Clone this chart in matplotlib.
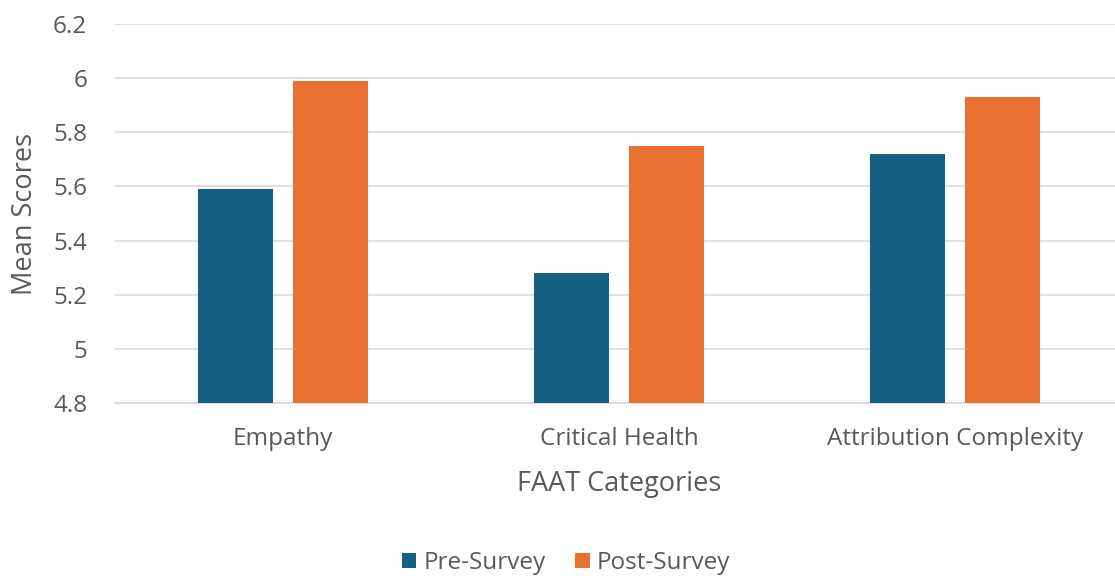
import matplotlib
matplotlib.use("Agg")
import matplotlib.pyplot as plt
import numpy as np

categories = ["Empathy", "Critical Health", "Attribution Complexity"]
pre_survey = [5.59, 5.28, 5.72]
post_survey = [5.99, 5.75, 5.93]
series_names = ["Pre-Survey", "Post-Survey"]
y_ticks = [4.8, 5.0, 5.2, 5.4, 5.6, 5.8, 6.0, 6.2]
y_tick_labels = ["4.8", "5", "5.2", "5.4", "5.6", "5.8", "6", "6.2"]

plt.rcParams['font.family'] = ['Open Sans', 'DejaVu Sans']
grey = "#595959"
grid_c = "#D9D9D9"
c_pre = "#156082"
c_post = "#E97132"

fig = plt.figure(figsize=(11.15, 5.76), dpi=100)
ax = fig.add_axes([115/1115, (576-403)/576, 1008/1115, (403-24)/576])

x = np.arange(len(categories))
w = 0.223
off = 0.1414
ax.bar(x - off, np.array(pre_survey) - 4.8, w, bottom=4.8, color=c_pre, label=series_names[0], zorder=3)
ax.bar(x + off, np.array(post_survey) - 4.8, w, bottom=4.8, color=c_post, label=series_names[1], zorder=3)

ax.set_xlim(-0.5, len(categories) - 0.5)
ax.set_ylim(4.8, 6.2)
ax.set_yticks(y_ticks)
ax.set_yticklabels(y_tick_labels)
ax.set_xticks(x)
ax.set_xticklabels(categories)
ax.yaxis.grid(True, color=grid_c, linewidth=1.2, zorder=0)
ax.set_axisbelow(True)
for s in ["top", "right", "left"]:
    ax.spines[s].set_visible(False)
ax.spines["bottom"].set_color(grid_c)
ax.spines["bottom"].set_linewidth(1.2)
ax.tick_params(axis="both", length=0, colors=grey, labelsize=17.5)
ax.tick_params(axis="y", pad=20)
ax.tick_params(axis="x", pad=17)

ax.set_xlabel("FAAT Categories", fontsize=19.5, color=grey, labelpad=14)
ax.set_ylabel("Mean Scores", fontsize=19.5, color=grey, labelpad=10)

fig.legend(loc="center", bbox_to_anchor=(566/1115, 1 - 563/576), ncol=2, frameon=False,
           fontsize=17.5, labelcolor=grey, handlelength=0.6, handleheight=0.6,
           handletextpad=0.3, columnspacing=1.2)

fig.savefig("out.png", dpi=100)
